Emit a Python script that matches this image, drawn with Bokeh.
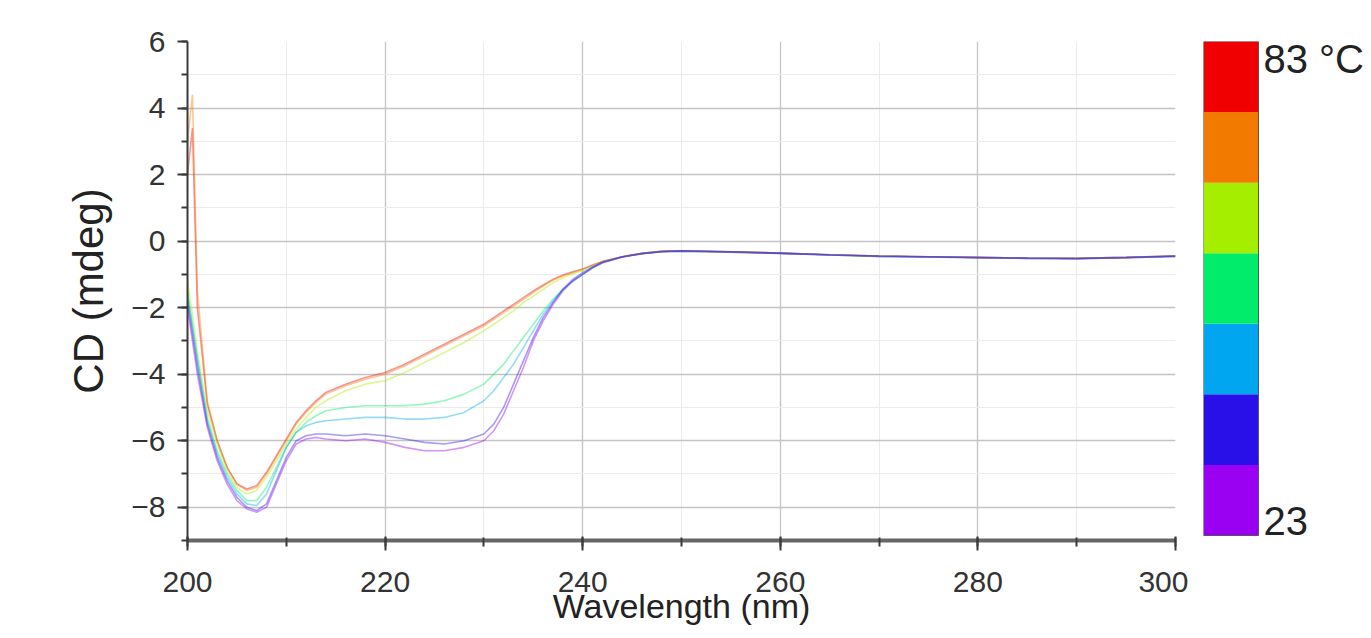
from bokeh.plotting import figure
from bokeh.layouts import row
from bokeh.models import Range1d, SingleIntervalTicker, Label
from bokeh.embed import file_html
from bokeh.resources import INLINE

# ---------------- data ----------------
wavelength = [200, 200.5, 201, 202, 203, 204, 205, 206, 207, 208,
              209, 210, 211, 212, 213, 214, 216, 218, 220, 222,
              224, 226, 228, 230, 231, 232, 233, 234, 235, 236,
              237, 238, 239, 240, 241, 242, 244, 246, 248, 250,
              255, 260, 265, 270, 275, 280, 285, 290, 295, 300]

temps = [23, 33, 43, 53, 63, 73, 83]

cd_23 = [-2.0, -3.0, -4.0, -5.6, -6.6, -7.3, -7.8, -8.05, -8.15, -8.0,
         -7.3, -6.6, -6.1, -5.95, -5.9, -5.95, -6.0, -5.95, -6.05, -6.2,
         -6.3, -6.3, -6.2, -6.0, -5.7, -5.2, -4.5, -3.8, -3.0, -2.4,
         -1.9, -1.5, -1.2, -1.0, -0.8, -0.65, -0.48, -0.38, -0.32, -0.3,
         -0.33, -0.37, -0.42, -0.46, -0.48, -0.5, -0.52, -0.53, -0.5, -0.46]
cd_33 = [-1.8, -2.8, -3.8, -5.5, -6.5, -7.2, -7.7, -8.0, -8.1, -7.9,
         -7.2, -6.5, -6.0, -5.85, -5.8, -5.8, -5.85, -5.8, -5.85, -5.95,
         -6.05, -6.1, -6.0, -5.8, -5.5, -5.0, -4.3, -3.6, -2.9, -2.3,
         -1.85, -1.45, -1.15, -0.95, -0.78, -0.63, -0.47, -0.37, -0.31, -0.29,
         -0.32, -0.36, -0.41, -0.45, -0.47, -0.49, -0.51, -0.52, -0.49, -0.45]
cd_43 = [-1.6, -2.6, -3.6, -5.4, -6.4, -7.1, -7.6, -7.9, -7.95, -7.6,
         -6.9, -6.2, -5.75, -5.55, -5.45, -5.4, -5.35, -5.3, -5.3, -5.35,
         -5.35, -5.3, -5.15, -4.8, -4.5, -4.1, -3.7, -3.2, -2.7, -2.2,
         -1.8, -1.45, -1.2, -1.0, -0.8, -0.65, -0.48, -0.38, -0.32, -0.3,
         -0.33, -0.37, -0.42, -0.46, -0.48, -0.5, -0.52, -0.53, -0.5, -0.46]
cd_53 = [-1.5, -2.5, -3.5, -5.3, -6.3, -7.0, -7.5, -7.8, -7.8, -7.4,
         -6.8, -6.2, -5.75, -5.45, -5.25, -5.1, -5.0, -4.95, -4.95, -4.95,
         -4.9, -4.8, -4.6, -4.3, -4.0, -3.7, -3.3, -2.9, -2.5, -2.1,
         -1.75, -1.45, -1.2, -1.0, -0.8, -0.65, -0.48, -0.38, -0.32, -0.3,
         -0.33, -0.37, -0.42, -0.46, -0.48, -0.5, -0.52, -0.53, -0.5, -0.46]
cd_63 = [-1.2, -2.2, -3.3, -5.1, -6.1, -6.9, -7.4, -7.6, -7.5, -7.1,
         -6.6, -6.1, -5.65, -5.3, -5.0, -4.8, -4.5, -4.3, -4.2, -3.95,
         -3.65, -3.35, -3.05, -2.7, -2.5, -2.3, -2.1, -1.85, -1.65, -1.45,
         -1.25, -1.1, -0.98, -0.88, -0.75, -0.62, -0.47, -0.37, -0.31, -0.29,
         -0.32, -0.36, -0.41, -0.45, -0.47, -0.49, -0.51, -0.52, -0.49, -0.45]
cd_73 = [3.0, 4.4, -1.5, -4.8, -6.0, -6.8, -7.3, -7.5, -7.4, -7.0,
         -6.5, -6.0, -5.5, -5.15, -4.85, -4.6, -4.35, -4.15, -4.0, -3.75,
         -3.45, -3.15, -2.85, -2.55, -2.35, -2.15, -1.95, -1.75, -1.55, -1.35,
         -1.18, -1.05, -0.95, -0.85, -0.73, -0.62, -0.47, -0.37, -0.31, -0.29,
         -0.32, -0.36, -0.41, -0.45, -0.47, -0.49, -0.51, -0.52, -0.49, -0.45]
cd_83 = [2.0, 3.4, -2.0, -4.9, -6.0, -6.8, -7.3, -7.45, -7.35, -6.95,
         -6.45, -5.95, -5.45, -5.1, -4.8, -4.55, -4.3, -4.1, -3.95, -3.7,
         -3.4, -3.1, -2.8, -2.5, -2.3, -2.1, -1.9, -1.7, -1.5, -1.32,
         -1.15, -1.02, -0.92, -0.84, -0.72, -0.61, -0.47, -0.37, -0.31, -0.29,
         -0.32, -0.36, -0.41, -0.45, -0.47, -0.49, -0.51, -0.52, -0.49, -0.45]

series = [cd_23, cd_33, cd_43, cd_53, cd_63, cd_73, cd_83]
colors = ["#9a00f2", "#2a10e8", "#00a6f0", "#00ec6a", "#a6ee00", "#f27a00", "#f00000"]

x_label = "Wavelength (nm)"
y_label = "CD (mdeg)"
cb_top_label = "83 °C"
cb_bottom_label = "23"

FONT = "Liberation Sans"
H = 638

# ---------------- main plot ----------------
p = figure(width=1188, height=H,
           x_range=Range1d(200, 300), y_range=Range1d(-9, 6),
           output_backend="svg", toolbar_location=None,
           min_border_left=187, min_border_right=13,
           min_border_top=41, min_border_bottom=98)
p.outline_line_color = None
p.background_fill_color = "white"

for ys, c in zip(reversed(series), reversed(colors)):
    p.line(wavelength, ys, line_color=c, line_alpha=0.42, line_width=1.6)

p.xaxis.ticker = SingleIntervalTicker(interval=20, num_minor_ticks=2)
p.yaxis.ticker = SingleIntervalTicker(interval=2, num_minor_ticks=2)

p.xgrid.grid_line_color = "#c4c4c4"
p.ygrid.grid_line_color = "#c4c4c4"
p.xgrid.grid_line_width = 1.3
p.ygrid.grid_line_width = 1.3
p.xgrid.minor_grid_line_color = "#ececec"
p.ygrid.minor_grid_line_color = "#ececec"

for ax in (p.xaxis, p.yaxis):
    ax.axis_line_color = "#3a3a3a"
    ax.major_tick_line_color = "#3a3a3a"
    ax.minor_tick_line_color = "#3a3a3a"
    ax.major_tick_line_width = 2
    ax.minor_tick_line_width = 2
    ax.major_label_text_font = FONT
    ax.major_label_text_font_size = "30px"
    ax.major_label_text_color = "#333333"
    ax.axis_label_text_font = FONT
    ax.axis_label_text_font_style = "normal"
    ax.axis_label_text_color = "#222222"

p.xaxis.axis_line_color = "#666666"
p.xaxis.axis_line_width = 4
p.yaxis.axis_line_width = 2
p.xaxis.major_tick_out = 10
p.xaxis.major_tick_in = 4
p.xaxis.minor_tick_out = 6
p.xaxis.minor_tick_in = 3
p.yaxis.major_tick_out = 10
p.yaxis.major_tick_in = 0
p.yaxis.minor_tick_out = 6
p.yaxis.minor_tick_in = 0
p.xaxis.major_label_standoff = 21
p.yaxis.major_label_standoff = 12
p.xaxis.axis_label = x_label
p.yaxis.axis_label = y_label
p.xaxis.axis_label_text_font_size = "34px"
p.yaxis.axis_label_text_font_size = "42px"
p.xaxis.axis_label_standoff = -8
p.yaxis.axis_label_standoff = 16

# ---------------- colour bar ----------------
# the row aligns this frame with the main frame (rows 41..540);
# the bar itself ends 5 px above the frame bottom
frame_top, frame_bottom, bar_bottom = 41, 540, 535
units_per_px = (temps[-1] - temps[0]) / (bar_bottom - frame_top)
cb = figure(width=178, height=H,
            x_range=Range1d(0, 163 / 55),
            y_range=Range1d(temps[0] - (frame_bottom - bar_bottom) * units_per_px,
                            temps[-1]),
            output_backend="svg", toolbar_location=None,
            min_border_left=15, min_border_right=0,
            min_border_top=frame_top, min_border_bottom=H - frame_bottom)
cb.axis.visible = False
cb.grid.visible = False
cb.outline_line_color = None

n = len(temps)
step = (temps[-1] - temps[0]) / n
bottoms = [temps[0] + i * step for i in range(n)]
tops = [b + step for b in bottoms]
cb.quad(left=0, right=1, bottom=bottoms, top=tops,
        fill_color=colors, line_color=None)
cb.quad(left=0, right=1, bottom=temps[0], top=temps[-1],
        fill_alpha=0, line_color="#555555", line_width=1)

cb.add_layout(Label(x=1, y=temps[-1], text=cb_top_label, x_offset=5, y_offset=5,
                    text_baseline="top", text_align="left",
                    text_font=FONT, text_font_size="40px", text_color="#222222"))
cb.add_layout(Label(x=1, y=temps[0], text=cb_bottom_label, x_offset=5, y_offset=15,
                    text_baseline="middle", text_align="left",
                    text_font=FONT, text_font_size="40px", text_color="#222222"))

layout = row(p, cb)
open("out.html", "w").write(file_html(layout, INLINE))
